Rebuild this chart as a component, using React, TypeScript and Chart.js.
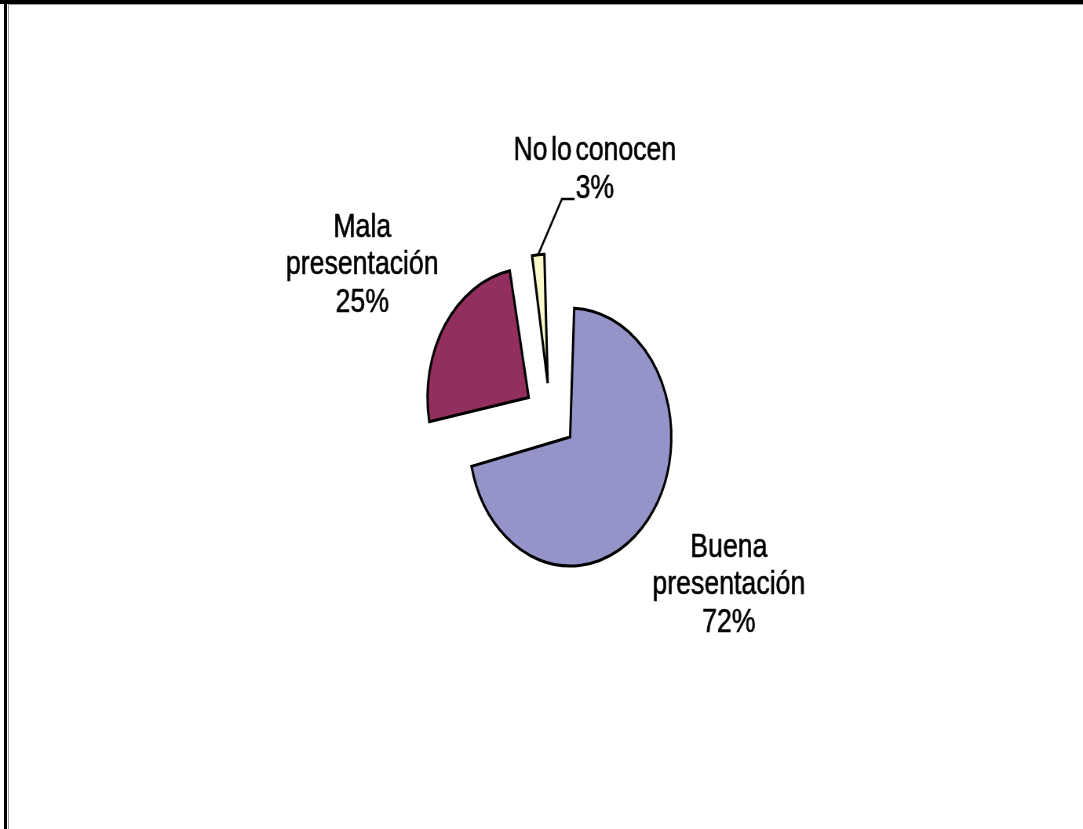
import React, { useEffect, useRef } from 'react';
import { Chart, registerables } from 'chart.js';

Chart.register(...registerables);

// ---- data ----
const categories = ['Buena presentación', 'Mala presentación', 'No lo conocen'];
const labelLines = [['Buena', 'presentación'], ['Mala', 'presentación'], ['No lo conocen']];
const percentages = [72, 25, 3];
const sliceColors = ['#9494C9', '#922F5F', '#F9F9C9'];

// ---- layout (the reference is horizontally squeezed, so the canvas bitmap is wider than its box) ----
const BOX_W = 1083;
const BOX_H = 829;
const CANVAS_W = 1380;
const CANVAS_H = 829;
const RADIUS = 129;
const EXPLODE = 132; // Chart.js translates each slice by offset / 4
const FONT = '34px "Liberation Sans", Arial, sans-serif';
const LINE_H = 37.5;
// label anchor (centre x, first baseline) relative to the pie centre, in canvas px
const LABEL_POS = [
  { dx: 227.7, dy: 140.7 },
  { dx: -239.4, dy: -179.3 },
  { dx: 57, dy: -256 },
];

const radiusFix = {
  id: 'radiusFix',
  afterDatasetsUpdate(chart: any) {
    const meta = chart.getDatasetMeta(0);
    meta.data.forEach((arc: any) => {
      const fix = 1 - Math.sin(Math.min(Math.PI, arc.circumference || 0));
      arc.outerRadius = arc.outerRadius - (EXPLODE / 4) * fix;
    });
  },
};

const labelsPlugin = {
  id: 'sliceLabels',
  afterDatasetsDraw(chart: any) {
    const ctx = chart.ctx as CanvasRenderingContext2D;
    const meta = chart.getDatasetMeta(0);
    const first = meta.data[0];
    const cx = first.x;
    const cy = first.y;
    ctx.save();
    ctx.font = FONT;
    ctx.fillStyle = '#000';
    ctx.strokeStyle = '#000';
    ctx.lineWidth = 0.6;
    ctx.textAlign = 'center';
    ctx.textBaseline = 'alphabetic';
    (ctx as any).wordSpacing = '-5px';
    meta.data.forEach((_arc: any, i: number) => {
      const lines = [...labelLines[i], `${percentages[i]}%`];
      const p = LABEL_POS[i];
      lines.forEach((t, j) => {
        ctx.fillText(t, cx + p.dx, cy + p.dy + j * LINE_H);
        ctx.strokeText(t, cx + p.dx, cy + p.dy + j * LINE_H);
      });
    });
    // leader line for the small slice
    const arc = meta.data[2];
    const mid = (arc.startAngle + arc.endAngle) / 2;
    const rr = RADIUS + EXPLODE / 4;
    const sx = cx + Math.cos(mid) * rr;
    const sy = cy + Math.sin(mid) * rr;
    const p = LABEL_POS[2];
    const ex = cx + p.dx - 42;
    const ey = cy + p.dy + 39;
    ctx.beginPath();
    ctx.moveTo(sx, sy);
    ctx.lineTo(ex, ey);
    ctx.lineTo(ex + 16, ey);
    ctx.lineWidth = 2.5;
    ctx.lineJoin = 'miter';
    ctx.stroke();
    ctx.restore();
  },
};

export default function App() {
  const ref = useRef<HTMLCanvasElement>(null);

  useEffect(() => {
    if (!ref.current) return;
    const chart = new Chart(ref.current, {
      type: 'pie',
      data: {
        labels: categories,
        datasets: [
          {
            data: percentages,
            backgroundColor: sliceColors,
            borderColor: '#000',
            borderWidth: 3,
            borderJoinStyle: 'miter',
            offset: EXPLODE,
            radius: RADIUS,
          } as any,
        ],
      },
      options: {
        animation: false,
        responsive: false,
        events: [],
        layout: { padding: { left: 22, top: 3, right: 0, bottom: 0 } },
        plugins: {
          legend: { display: false },
          tooltip: { enabled: false },
        },
      } as any,
      plugins: [radiusFix, labelsPlugin],
    });
    return () => chart.destroy();
  }, []);

  return (
    <div
      style={{
        position: 'absolute',
        left: 0,
        top: 0,
        width: BOX_W,
        height: BOX_H,
        background: '#fff',
        overflow: 'hidden',
      }}
    >
      <canvas
        ref={ref}
        width={CANVAS_W}
        height={CANVAS_H}
        style={{ position: 'absolute', left: 0, top: 0, width: `${BOX_W}px`, height: `${BOX_H}px` }}
      />
      <div style={{ position: 'absolute', left: 0, top: 0, width: BOX_W, height: 4, background: '#000' }} />
      <div style={{ position: 'absolute', left: 8, top: 4, width: BOX_W - 8, height: 1, background: '#999' }} />
      <div style={{ position: 'absolute', left: 4, top: 0, width: 3, height: BOX_H, background: '#000' }} />
      <div style={{ position: 'absolute', left: 8, top: 4, width: 1, height: BOX_H - 4, background: '#999' }} />
    </div>
  );
}
